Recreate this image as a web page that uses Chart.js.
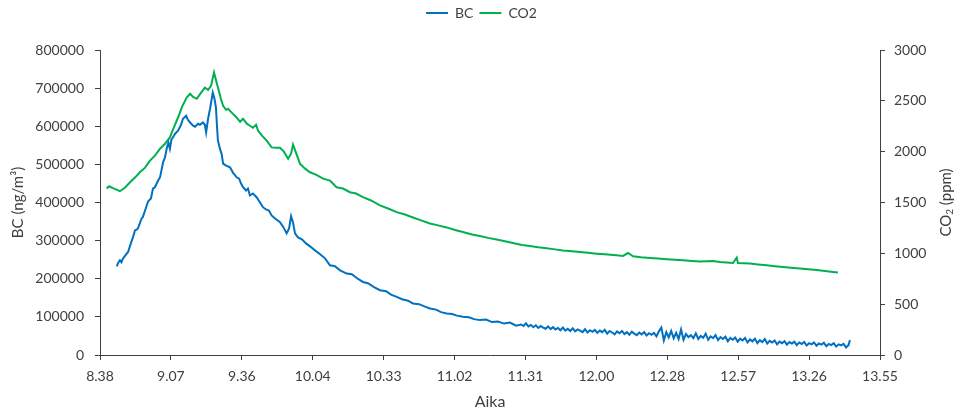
<!DOCTYPE html>
<html>
<head>
<meta charset="utf-8">
<script src="https://cdn.jsdelivr.net/npm/chart.js@4.4.1/dist/chart.umd.min.js"></script>
<style>
  html, body { margin: 0; padding: 0; background: #fff; }
  #wrap { width: 963px; height: 415px; position: relative; }
</style>
</head>
<body>
<div id="wrap"><canvas id="chart"></canvas></div>
<script>
// time axis: minutes after midnight, labels are h.mm like in the original sheet
const xTickLabels = ["8.38", "9.07", "9.36", "10.04", "10.33", "11.02", "11.31", "12.00", "12.28", "12.57", "13.26", "13.55"];
const xStart = 518;
const xStep = 28.8;

const bcTime = [
  524.8,525.3,526.1,526.7,527.3,528.6,529.4,530.4,531.4,532.2,
  533.0,533.4,534.9,535.4,536.7,537.5,538.7,539.5,540.3,541.6,
  542.4,543.1,543.6,544.4,545.2,545.8,546.4,547.0,547.6,548.5,
  549.7,550.9,551.7,553.0,553.7,554.6,555.8,556.6,557.8,558.6,
  559.8,560.6,561.1,561.9,562.7,563.8,564.5,565.1,565.5,565.9,
  566.7,567.4,568.0,569.2,570.8,572.0,573.5,574.5,575.3,576.1,
  577.3,578.1,578.9,580.1,581.6,583.0,584.2,585.4,586.6,587.7,
  589.1,591.1,592.3,593.8,594.8,595.6,596.4,597.2,598.4,600.0,
  601.7,603.3,605.3,607.4,609.4,611.4,613.4,615.5,618.2,620.3,
  622.4,624.8,626.8,629.3,631.7,634.2,636.2,638.5,640.7,643.1,
  645.1,647.6,650.0,652.0,654.5,656.5,658.8,661.0,663.0,665.4,
  667.9,669.9,672.3,674.8,677.2,679.6,682.1,684.5,687.0,
  689,690,691,692,693,694,695,696,697,698,
  699,700,701,702,703,704,705,706,707,708,
  709,710,711,712,713,714,715,716,717,718,
  719,720,721,722,723,724,725,726,727,728,
  729,730,731,732,733,734,735,736,737,738,
  739,740,741,742,743,744,745,746,747,748,
  749,750,751,752,753,754,755,756,757,758,
  759,760,761,762,763,764,765,766,767,768,
  769,770,771,772,773,774,775,776,777,778,
  779,780,781,782,783,784,785,786,787,788,
  789,790,791,792,793,794,795,796,797,798,
  799,800,801,802,803,804,805,806,807,808,
  809,810,811,812,813,814,815,816,817,818,
  819,820,821,822,822.6
];
const bcValues = [
  232700,240500,248400,243100,252800,264100,270100,290200,309300,326800,
  329400,332000,358200,361600,386900,402600,410500,436600,440000,457500,
  466200,488900,505400,518400,544600,556900,541200,564700,570700,580400,
  588200,603900,619600,627500,617000,609900,601300,598700,606500,603900,
  609900,603900,583800,619600,645800,688400,671900,649200,601300,562100,
  541200,527300,502000,496700,492300,478400,466200,462700,449700,440000,
  431400,436600,418300,423500,413900,400000,387700,381700,379100,366000,
  358200,348500,337300,319000,332000,364200,347700,319000,308500,303300,
  292800,285000,274500,264100,253600,235300,232700,222200,213600,211800,
  201300,191600,188200,177800,169900,167300,158200,152400,146400,142500,
  135200,133300,126800,122100,119000,112400,109000,107700,103300,100100,
  98800,94100,91500,92800,86300,87600,82400,85000,77100,
  80000,76000,83000,75000,79000,73000,78000,71000,76000,72000,
  69000,75000,68000,73000,67000,71000,65000,72000,64000,69000,
  63000,70000,62000,67000,64000,60000,68000,59000,65000,61000,
  66000,58000,64000,60000,66000,56000,63000,59000,54000,62000,
  57000,63000,55000,60000,53000,61000,56000,52000,59000,54000,
  60000,51000,57000,53000,58000,49000,62000,72000,38000,60000,
  46000,63000,44000,58000,42000,67000,40000,55000,47000,52000,
  44000,57000,42000,50000,45000,56000,40000,49000,44000,52000,
  39000,47000,42000,48000,36000,45000,40000,46000,35000,43000,
  38000,45000,33000,41000,36000,43000,31000,39000,34000,42000,
  30000,37000,33000,38000,28000,35000,31000,36000,27000,34000,
  30000,35000,26000,33000,29000,34000,25000,31000,28000,33000,
  24000,30000,27000,32000,23000,29000,26000,31000,22000,28000,
  25000,29000,20000,26000,39000
];

const co2Time = [
  520.7,521.7,523.7,526.1,528.2,530.2,532.2,534.2,536.3,538.3,
  540.3,542.4,544.4,546.4,548.1,549.7,551.3,553.2,554.6,555.8,
  557.3,559.0,560.6,561.9,563.1,564.3,565.9,567.1,568.0,569.2,
  570.0,571.6,573.5,574.9,576.1,577.6,578.9,580.1,581.4,582.2,
  583.8,585.7,587.7,589.5,591.1,592.7,594.4,595.6,596.4,597.6,
  599.2,601.3,603.3,605.7,608.6,611.4,614.1,616.7,619.5,622.0,
  624.8,628.1,631.7,635.0,638.5,641.9,645.1,648.4,652.0,655.3,
  658.8,662.2,665.4,669.1,672.3,675.6,679.1,682.5,685.7,689.4,
  692.6,695.9,699.4,702.8,706.0,709.7,713.0,716.2,719.7,723.1,
  727.8,730.4,732.5,734.5,737.7,741.4,744.6,748.2,751.5,754.8,
  758.4,761.7,767.0,769.8,772.5,775.1,776.6,777.1,782.0,785.3,
  788.8,792.2,795.4,798.6,802.3,805.6,809.1,812.5,815.7,817.7
];
const co2Values = [
  1637,1660,1637,1611,1647,1699,1745,1797,1843,1912,
  1961,2029,2078,2140,2245,2336,2441,2532,2569,2539,
  2520,2578,2630,2608,2647,2778,2630,2520,2451,2412,
  2422,2382,2336,2294,2324,2275,2255,2235,2265,2206,
  2157,2108,2042,2039,2039,2000,1931,1980,2069,1990,
  1882,1833,1797,1775,1735,1716,1650,1637,1601,1588,
  1552,1520,1471,1441,1405,1382,1353,1324,1294,1275,
  1255,1230,1209,1186,1170,1152,1137,1118,1101,1083,
  1072,1059,1049,1039,1029,1020,1013,1005,997,990,
  980,974,1003,971,961,954,948,941,936,931,
  925,919,925,914,909,905,958,905,899,890,
  882,873,866,858,850,843,836,826,817,811
];

const textColor = "#404040";
const axisColor = "#404040";
const fontFamily = "Lato, 'Open Sans', sans-serif";

// right axis title reads bottom-to-top in the original, chart.js turns it the other way
const rightTitle = {
  id: "rightTitle",
  afterDraw(chart) {
    const ctx = chart.ctx;
    const area = chart.chartArea;
    const big = "15px " + fontFamily;
    const small = "10px " + fontFamily;
    ctx.save();
    ctx.translate(946, (area.top + area.bottom) / 2);
    ctx.rotate(-Math.PI / 2);
    ctx.fillStyle = textColor;
    ctx.textBaseline = "middle";
    ctx.font = big;
    const w1 = ctx.measureText("CO").width;
    const w3 = ctx.measureText(" (ppm)").width;
    ctx.font = small;
    const w2 = ctx.measureText("2").width;
    let x = -(w1 + w2 + w3) / 2;
    ctx.font = big;
    ctx.fillText("CO", x, 0);
    x += w1;
    ctx.font = small;
    ctx.fillText("2", x, 4);
    x += w2;
    ctx.font = big;
    ctx.fillText(" (ppm)", x, 0);
    ctx.restore();
  }
};

// leave some empty room under the legend, like the excel plot area
const legendGap = {
  id: "legendGap",
  beforeLayout(chart) {
    const legend = chart.legend;
    if (!legend || legend._gapPatched) return;
    const fit = legend.fit;
    legend.fit = function () {
      fit.call(this);
      this.height += 20;
    };
    legend._gapPatched = true;
  }
};

const axisGrid = {
  display: true,
  drawOnChartArea: false,
  drawTicks: true,
  tickLength: 5,
  color: axisColor
};

new Chart(document.getElementById("chart"), {
  type: "line",
  data: {
    datasets: [
      {
        label: "BC",
        data: bcTime.map((t, i) => ({ x: t, y: bcValues[i] })),
        borderColor: "#0070C0",
        backgroundColor: "#0070C0",
        borderWidth: 2,
        pointRadius: 0,
        pointStyle: "line",
        tension: 0,
        yAxisID: "y"
      },
      {
        label: "CO2",
        data: co2Time.map((t, i) => ({ x: t, y: co2Values[i] })),
        borderColor: "#00B050",
        backgroundColor: "#00B050",
        borderWidth: 2,
        pointRadius: 0,
        pointStyle: "line",
        tension: 0,
        yAxisID: "y2"
      }
    ]
  },
  options: {
    responsive: true,
    maintainAspectRatio: false,
    animation: false,
    devicePixelRatio: 1,
    layout: { padding: { top: 0, left: 0, right: 0, bottom: 0 } },
    plugins: {
      legend: {
        position: "top",
        labels: {
          usePointStyle: true,
          pointStyleWidth: 22,
          color: textColor,
          font: { family: fontFamily, size: 14 },
          padding: 6,
          boxHeight: 8
        }
      },
      tooltip: { enabled: false }
    },
    scales: {
      x: {
        type: "linear",
        min: xStart,
        max: xStart + xStep * (xTickLabels.length - 1),
        afterBuildTicks: (scale) => {
          scale.ticks = xTickLabels.map((l, i) => ({ value: xStart + i * xStep }));
        },
        afterFit: (scale) => { scale.height = 60; },
        ticks: {
          callback: (v, i) => xTickLabels[i],
          color: textColor,
          font: { family: fontFamily, size: 14 },
          padding: 8,
          maxRotation: 0,
          autoSkip: false
        },
        grid: axisGrid,
        border: { color: axisColor, width: 1 },
        title: {
          display: true,
          text: "Aika",
          color: textColor,
          font: { family: fontFamily, size: 16 },
          padding: { top: 0, bottom: 4 }
        }
      },
      y: {
        position: "left",
        min: 0,
        max: 800000,
        afterFit: (scale) => { scale.width = 100; },
        ticks: {
          stepSize: 100000,
          callback: (v) => String(v),
          color: textColor,
          font: { family: fontFamily, size: 14 },
          padding: 11
        },
        grid: axisGrid,
        border: { color: axisColor, width: 1 },
        title: {
          display: true,
          text: "BC (ng/m³)",
          color: textColor,
          font: { family: fontFamily, size: 15 },
          padding: { top: 9, bottom: 0 }
        }
      },
      y2: {
        position: "right",
        min: 0,
        max: 3000,
        afterFit: (scale) => { scale.width = 83; },
        ticks: {
          stepSize: 500,
          callback: (v) => String(v),
          color: textColor,
          font: { family: fontFamily, size: 14 },
          padding: 9
        },
        grid: axisGrid,
        border: { color: axisColor, width: 1 }
      }
    }
  },
  plugins: [rightTitle, legendGap]
});
</script>
</body>
</html>
